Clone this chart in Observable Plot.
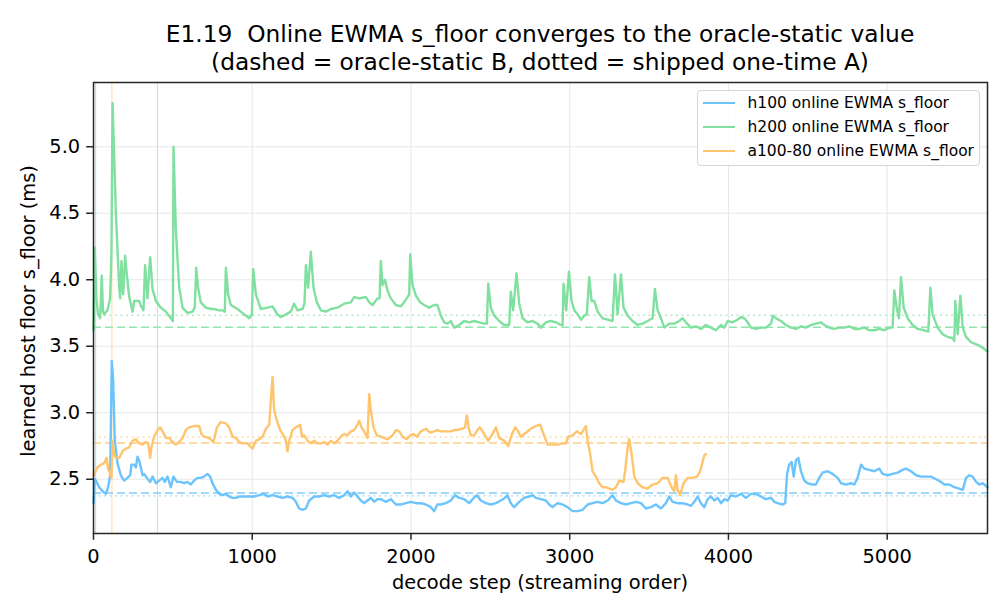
<!DOCTYPE html>
<html>
<head>
<meta charset="utf-8">
<script src="https://cdn.jsdelivr.net/npm/d3@7"></script>
<script src="https://cdn.jsdelivr.net/npm/@observablehq/plot@0.6"></script>
<style>
  html, body { margin: 0; padding: 0; background: #fff; }
  #fig { position: relative; width: 1008px; height: 616px; font-family: "DejaVu Sans", sans-serif; color: #000; }
  #fig svg { position: absolute; left: 0; top: 0; }
  .title { position: absolute; left: 93px; width: 894px; top: 20px; text-align: center; font-size: 23.3px; line-height: 28px; white-space: nowrap; }
  .xlabel { position: absolute; left: 93px; width: 894px; top: 571px; text-align: center; font-size: 19.4px; line-height: normal; }
  .ylabel { position: absolute; left: 27.5px; top: 311px; transform: translate(-50%, -50%) rotate(-90deg); white-space: nowrap; font-size: 19.4px; line-height: normal; }
  .legend { position: absolute; left: 697px; top: 90px; width: 281px; height: 74px; border: 1px solid #d6d6d6; border-radius: 4px; background: rgba(255,255,255,0.85); }
  .legend .row { position: relative; height: 24.2px; font-size: 15.5px; line-height: 24.2px; }
  .legend .sw { position: absolute; left: 5px; top: 10.8px; width: 32px; height: 0; border-top: 2.5px solid; }
  .legend .tx { position: absolute; left: 49.5px; top: 0; white-space: nowrap; }
</style>
</head>
<body>
<div id="fig"></div>
<script>
// Online EWMA estimate of the host floor per GPU, as [decode step, s_floor ms]
const h100 = [[0,2.32],[8,2.50],[15,2.49],[36,2.44],[57,2.41],[78,2.39],[92,2.44],[105,2.53],[115,3.39],[124,3.24],[134,2.79],[151,2.62],[172,2.53],[193,2.49],[214,2.51],[231,2.53],[239,2.61],[256,2.61],[267,2.59],[277,2.67],[288,2.64],[298,2.59],[309,2.53],[319,2.54],[336,2.51],[357,2.48],[372,2.52],[393,2.47],[414,2.49],[435,2.51],[449,2.48],[466,2.52],[487,2.44],[504,2.52],[525,2.48],[546,2.48],[571,2.47],[592,2.48],[613,2.46],[634,2.49],[655,2.51],[676,2.51],[697,2.52],[718,2.54],[735,2.52],[750,2.47],[771,2.42],[792,2.39],[813,2.38],[834,2.39],[855,2.37],[876,2.36],[897,2.36],[918,2.37],[949,2.37],[981,2.37],[1012,2.37],[1044,2.38],[1075,2.39],[1096,2.37],[1128,2.38],[1159,2.37],[1191,2.36],[1222,2.37],[1254,2.36],[1275,2.33],[1296,2.28],[1317,2.27],[1338,2.28],[1359,2.34],[1390,2.37],[1422,2.37],[1453,2.38],[1485,2.37],[1516,2.38],[1548,2.36],[1579,2.38],[1600,2.41],[1621,2.37],[1642,2.40],[1663,2.37],[1684,2.34],[1705,2.32],[1726,2.34],[1747,2.36],[1768,2.33],[1789,2.35],[1810,2.35],[1842,2.33],[1873,2.35],[1905,2.31],[1936,2.31],[1968,2.32],[1999,2.33],[2031,2.32],[2062,2.32],[2094,2.31],[2125,2.29],[2146,2.26],[2167,2.31],[2188,2.31],[2220,2.32],[2251,2.34],[2277,2.38],[2304,2.36],[2335,2.35],[2367,2.32],[2388,2.35],[2415,2.38],[2440,2.34],[2472,2.32],[2503,2.31],[2535,2.32],[2566,2.34],[2592,2.36],[2608,2.38],[2629,2.32],[2650,2.29],[2682,2.33],[2713,2.36],[2745,2.37],[2766,2.38],[2787,2.36],[2818,2.35],[2850,2.34],[2871,2.31],[2892,2.29],[2923,2.32],[2955,2.31],[2986,2.29],[3018,2.26],[3050,2.26],[3081,2.27],[3113,2.31],[3144,2.32],[3176,2.33],[3207,2.32],[3239,2.34],[3270,2.38],[3291,2.34],[3323,2.32],[3354,2.31],[3386,2.32],[3417,2.33],[3449,2.32],[3480,2.28],[3512,2.29],[3543,2.31],[3575,2.28],[3606,2.32],[3627,2.37],[3648,2.33],[3680,2.32],[3711,2.32],[3743,2.31],[3764,2.30],[3785,2.33],[3806,2.37],[3827,2.32],[3848,2.29],[3869,2.35],[3890,2.37],[3911,2.34],[3932,2.36],[3953,2.32],[3974,2.35],[3995,2.34],[4016,2.38],[4047,2.37],[4079,2.39],[4110,2.36],[4142,2.39],[4173,2.39],[4205,2.37],[4236,2.35],[4268,2.36],[4289,2.33],[4310,2.32],[4341,2.31],[4358,2.32],[4369,2.54],[4383,2.61],[4398,2.63],[4411,2.52],[4425,2.64],[4440,2.66],[4457,2.56],[4478,2.49],[4499,2.47],[4530,2.46],[4551,2.46],[4572,2.51],[4593,2.55],[4625,2.56],[4656,2.54],[4688,2.51],[4709,2.47],[4740,2.46],[4772,2.47],[4793,2.46],[4814,2.51],[4835,2.61],[4856,2.58],[4887,2.57],[4919,2.56],[4950,2.58],[4971,2.54],[5003,2.53],[5034,2.54],[5066,2.55],[5097,2.57],[5118,2.58],[5150,2.56],[5182,2.53],[5213,2.52],[5244,2.52],[5276,2.52],[5308,2.50],[5339,2.48],[5360,2.46],[5391,2.46],[5423,2.44],[5454,2.43],[5476,2.42],[5497,2.51],[5518,2.53],[5539,2.52],[5560,2.48],[5581,2.46],[5602,2.47],[5632,2.44]];

const h200 = [[0,3.62],[8,4.24],[18,3.86],[29,3.74],[42,3.71],[52,4.03],[60,3.76],[67,3.74],[88,3.77],[105,3.86],[113,4.19],[120,5.33],[141,4.50],[162,3.94],[168,3.86],[176,4.14],[187,3.89],[199,4.18],[210,4.04],[225,3.87],[246,3.76],[256,3.84],[270,3.84],[288,3.84],[300,3.80],[315,3.77],[325,4.11],[340,3.86],[357,4.17],[372,3.93],[393,3.84],[424,3.79],[456,3.76],[487,3.71],[500,3.69],[504,5.00],[519,4.37],[540,3.94],[561,3.79],[592,3.75],[624,3.76],[638,3.79],[647,4.09],[659,3.94],[676,3.83],[708,3.79],[740,3.78],[760,3.78],[790,3.77],[813,3.77],[827,3.76],[834,4.09],[848,3.89],[865,3.81],[907,3.78],[949,3.74],[981,3.71],[998,3.74],[1006,4.08],[1023,3.89],[1054,3.78],[1096,3.79],[1128,3.80],[1159,3.74],[1180,3.72],[1212,3.74],[1243,3.76],[1264,3.82],[1285,3.77],[1317,3.78],[1329,3.82],[1338,4.11],[1352,3.94],[1369,4.21],[1386,3.94],[1407,3.83],[1432,3.77],[1464,3.76],[1495,3.78],[1537,3.79],[1579,3.82],[1621,3.83],[1642,3.87],[1674,3.86],[1716,3.87],[1737,3.83],[1758,3.81],[1789,3.86],[1802,3.86],[1810,4.14],[1821,3.96],[1836,4.00],[1852,3.92],[1873,3.86],[1905,3.81],[1936,3.80],[1957,3.83],[1978,3.87],[1989,3.89],[1995,4.19],[2010,3.96],[2031,3.88],[2058,3.83],[2083,3.81],[2115,3.79],[2146,3.81],[2167,3.81],[2188,3.73],[2209,3.68],[2230,3.67],[2251,3.69],[2272,3.64],[2304,3.66],[2335,3.69],[2367,3.68],[2398,3.69],[2430,3.68],[2461,3.67],[2478,3.67],[2487,3.97],[2503,3.79],[2524,3.73],[2556,3.69],[2587,3.66],[2619,3.66],[2629,3.91],[2644,3.77],[2665,4.05],[2682,3.82],[2703,3.71],[2734,3.68],[2766,3.69],[2797,3.67],[2818,3.64],[2850,3.68],[2881,3.69],[2913,3.68],[2944,3.66],[2955,3.66],[2961,3.97],[2978,3.77],[2995,4.06],[3012,3.84],[3029,3.77],[3050,3.74],[3071,3.70],[3092,3.73],[3108,3.74],[3123,4.02],[3138,3.84],[3155,3.84],[3176,3.76],[3207,3.71],[3239,3.70],[3270,3.69],[3285,4.04],[3302,3.74],[3323,4.04],[3339,3.79],[3365,3.73],[3396,3.69],[3428,3.66],[3459,3.67],[3491,3.69],[3522,3.71],[3537,3.93],[3554,3.77],[3575,3.71],[3596,3.64],[3627,3.67],[3659,3.67],[3690,3.69],[3711,3.71],[3732,3.68],[3764,3.64],[3795,3.65],[3827,3.63],[3858,3.66],[3890,3.64],[3921,3.62],[3953,3.66],[3974,3.64],[3995,3.69],[4026,3.68],[4058,3.70],[4079,3.72],[4100,3.71],[4121,3.68],[4142,3.64],[4173,3.63],[4205,3.64],[4236,3.64],[4268,3.67],[4280,3.73],[4299,3.71],[4331,3.69],[4362,3.66],[4394,3.64],[4425,3.63],[4457,3.65],[4488,3.64],[4520,3.66],[4551,3.67],[4583,3.68],[4604,3.66],[4635,3.64],[4667,3.63],[4698,3.64],[4730,3.64],[4761,3.65],[4793,3.63],[4824,3.63],[4856,3.64],[4887,3.62],[4919,3.62],[4950,3.63],[4982,3.62],[5013,3.64],[5034,3.64],[5045,3.92],[5060,3.79],[5074,3.71],[5087,4.02],[5104,3.79],[5129,3.71],[5160,3.66],[5192,3.63],[5234,3.62],[5259,3.61],[5272,3.94],[5286,3.74],[5318,3.64],[5350,3.59],[5381,3.57],[5413,3.56],[5423,3.54],[5429,3.84],[5444,3.59],[5461,3.88],[5476,3.64],[5497,3.57],[5528,3.53],[5570,3.51],[5600,3.49],[5632,3.46]];

const a100_80 = [[0,2.53],[4,2.54],[25,2.59],[46,2.61],[67,2.62],[82,2.66],[92,2.58],[105,2.54],[113,2.51],[120,2.79],[130,2.69],[141,2.66],[162,2.66],[183,2.71],[204,2.73],[225,2.74],[246,2.79],[267,2.80],[288,2.77],[309,2.76],[330,2.78],[344,2.77],[357,2.66],[365,2.74],[382,2.82],[403,2.87],[420,2.89],[435,2.86],[456,2.81],[477,2.81],[498,2.78],[519,2.76],[540,2.78],[561,2.81],[582,2.87],[603,2.89],[634,2.90],[666,2.90],[680,2.84],[697,2.82],[729,2.81],[756,2.78],[777,2.89],[802,2.93],[834,2.92],[855,2.89],[876,2.82],[897,2.81],[918,2.78],[939,2.77],[970,2.77],[1002,2.73],[1023,2.79],[1044,2.80],[1065,2.82],[1086,2.88],[1107,2.91],[1117,3.09],[1128,3.27],[1138,3.02],[1155,2.94],[1176,2.87],[1197,2.83],[1212,2.79],[1222,2.71],[1233,2.79],[1254,2.87],[1275,2.89],[1302,2.91],[1313,2.82],[1327,2.83],[1348,2.79],[1369,2.77],[1390,2.79],[1411,2.77],[1432,2.77],[1453,2.78],[1474,2.76],[1495,2.79],[1516,2.77],[1537,2.79],[1558,2.82],[1579,2.84],[1600,2.83],[1621,2.86],[1642,2.87],[1663,2.91],[1674,2.94],[1689,2.89],[1705,2.86],[1726,2.81],[1737,3.14],[1747,3.02],[1764,2.89],[1785,2.83],[1810,2.82],[1831,2.81],[1852,2.80],[1884,2.83],[1905,2.87],[1926,2.86],[1947,2.82],[1974,2.80],[1995,2.83],[2016,2.84],[2037,2.82],[2062,2.86],[2094,2.88],[2121,2.85],[2146,2.86],[2167,2.87],[2188,2.86],[2220,2.86],[2251,2.86],[2272,2.87],[2293,2.87],[2325,2.88],[2340,2.89],[2352,2.98],[2363,2.89],[2377,2.83],[2398,2.83],[2419,2.87],[2434,2.89],[2451,2.86],[2487,2.79],[2514,2.84],[2535,2.89],[2556,2.81],[2587,2.79],[2613,2.75],[2633,2.83],[2657,2.89],[2675,2.86],[2692,2.82],[2724,2.85],[2755,2.88],[2787,2.90],[2814,2.91],[2835,2.84],[2861,2.76],[2892,2.76],[2923,2.76],[2955,2.77],[2976,2.77],[2991,2.82],[3018,2.83],[3045,2.86],[3071,2.84],[3102,2.90],[3113,2.79],[3129,2.69],[3144,2.56],[3165,2.52],[3186,2.47],[3207,2.44],[3228,2.44],[3249,2.43],[3270,2.42],[3291,2.44],[3312,2.49],[3339,2.48],[3350,2.57],[3365,2.74],[3375,2.80],[3390,2.69],[3407,2.52],[3428,2.47],[3459,2.44],[3491,2.43],[3522,2.46],[3554,2.47],[3585,2.51],[3617,2.51],[3642,2.44],[3659,2.41],[3669,2.53],[3680,2.42],[3696,2.38],[3717,2.47],[3743,2.51],[3774,2.51],[3801,2.52],[3822,2.56],[3835,2.62],[3848,2.68],[3858,2.69]];

// Series names, colours and reference levels (ms)
const seriesNames  = ["h100 online EWMA s_floor", "h200 online EWMA s_floor", "a100-80 online EWMA s_floor"];
const seriesColors = ["#6cc4fc", "#80e0a0", "#ffc46e"];
const oracleStaticB = [2.397, 3.643, 2.772];   // dashed
const shippedOnceA  = [2.375, 3.733, 2.818];   // dotted
const warmupEnd     = [13, 403, 116];          // step at which each EWMA warm-up ends

// Axis ticks
const xTicks = [0, 1000, 2000, 3000, 4000, 5000];
const yTicks = [2.5, 3.0, 3.5, 4.0, 4.5, 5.0];
const xDomain = [0, 5632];
const yDomain = [2.092, 5.483];

const allSeries = [h100, h200, a100_80];

// Per-series marks: warm-up marker, reference levels, then the EWMA trace
const refMarks = seriesColors.flatMap((c, i) => [
  Plot.ruleX([warmupEnd[i]], {stroke: c, strokeOpacity: 0.5, strokeWidth: 1.2}),
  Plot.ruleY([oracleStaticB[i]], {stroke: c, strokeOpacity: 0.85, strokeWidth: 1.4, strokeDasharray: "8,4"}),
  Plot.ruleY([shippedOnceA[i]], {stroke: c, strokeOpacity: 0.6, strokeWidth: 1.4, strokeDasharray: "2,3.5"})
]);
const lineMarks = allSeries.map((s, i) =>
  Plot.line(s, {x: d => d[0], y: d => d[1], stroke: seriesColors[i], strokeWidth: 2.4, strokeLinejoin: "round"}));

const chart = Plot.plot({
  width: 1008,
  height: 616,
  marginLeft: 93,
  marginRight: 21,
  marginTop: 82,
  marginBottom: 83,
  style: {fontFamily: "DejaVu Sans, sans-serif", fontSize: "19.4px", color: "#000", background: "transparent"},
  x: {domain: xDomain},
  y: {domain: yDomain},
  marks: [
    Plot.gridX(xTicks, {stroke: "#e8e8e8", strokeOpacity: 1, strokeWidth: 1.1}),
    Plot.gridY(yTicks, {stroke: "#e8e8e8", strokeOpacity: 1, strokeWidth: 1.1}),
    ...refMarks,
    ...lineMarks,
    Plot.frame({stroke: "#262626", strokeWidth: 1.5}),
    Plot.axisX(xTicks, {tickSize: 6.8, tickPadding: 9, label: null, tickFormat: d => String(d), stroke: "#262626", strokeWidth: 1.5}),
    Plot.axisY(yTicks, {tickSize: 6.8, tickPadding: 6.5, label: null, tickFormat: d => d.toFixed(1), stroke: "#262626", strokeWidth: 1.5})
  ]
});

const fig = document.getElementById("fig");
fig.appendChild(chart);

const title = document.createElement("div");
title.className = "title";
title.innerHTML = "E1.19&nbsp; Online EWMA s_floor converges to the oracle-static value<br>(dashed = oracle-static B, dotted = shipped one-time A)";
fig.appendChild(title);

const xl = document.createElement("div");
xl.className = "xlabel";
xl.textContent = "decode step (streaming order)";
fig.appendChild(xl);

const yl = document.createElement("div");
yl.className = "ylabel";
yl.textContent = "learned host floor s_floor (ms)";
fig.appendChild(yl);

const lg = document.createElement("div");
lg.className = "legend";
seriesNames.forEach((n, i) => {
  const row = document.createElement("div");
  row.className = "row";
  const sw = document.createElement("span");
  sw.className = "sw";
  sw.style.borderColor = seriesColors[i];
  const tx = document.createElement("span");
  tx.className = "tx";
  tx.textContent = n;
  row.appendChild(sw);
  row.appendChild(tx);
  lg.appendChild(row);
});
fig.appendChild(lg);
</script>
</body>
</html>
